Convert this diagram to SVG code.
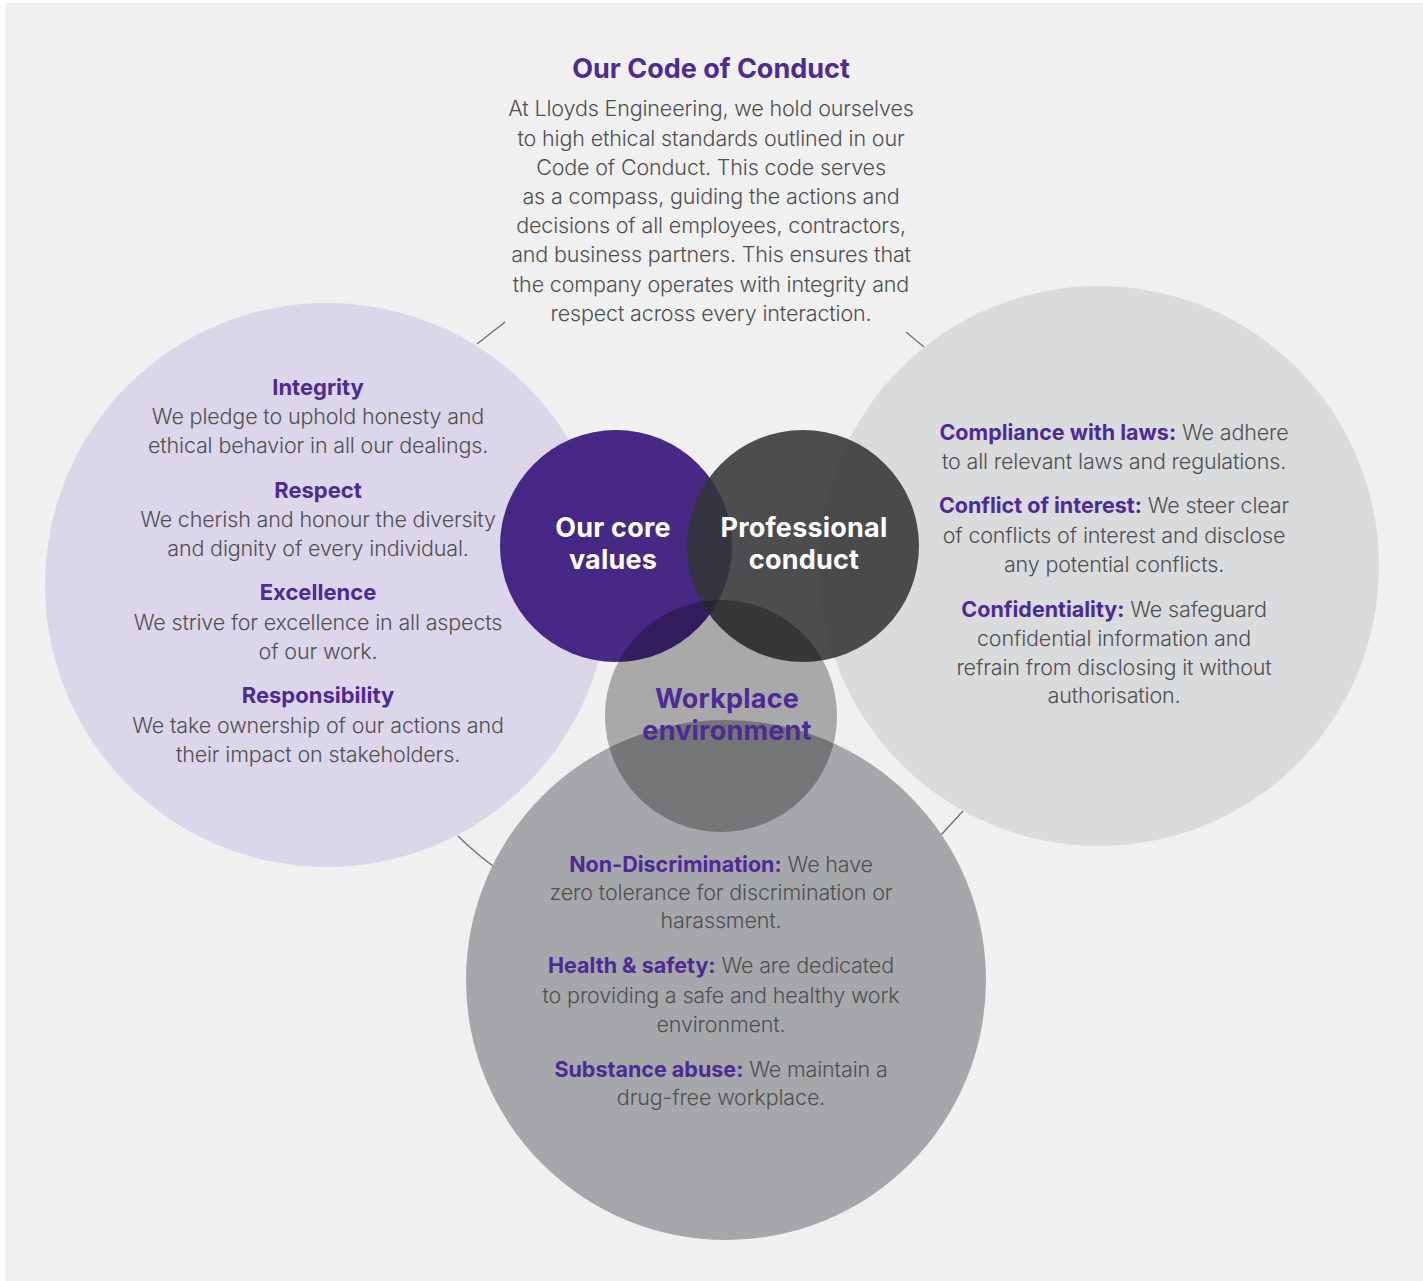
<svg xmlns="http://www.w3.org/2000/svg" width="1423" height="1281" viewBox="0 0 1423 1281">
<style>
.body{font-family:Inter,"Liberation Sans",sans-serif;font-weight:300;font-size:21.5px;fill:#4f4f51;letter-spacing:-0.15px;text-anchor:middle}
.h{font-family:Inter,"Liberation Sans",sans-serif;font-weight:700;fill:#4e2a96;letter-spacing:0px}
.hc{font-size:22px;text-anchor:middle}
.lbl{font-family:Inter,"Liberation Sans",sans-serif;font-weight:700;font-size:27px;letter-spacing:0.2px;text-anchor:middle}
.conn{stroke:#6d6e71;stroke-width:1.3;fill:none}
</style>
<rect x="0" y="0" width="1423" height="1281" fill="#ffffff"/>
<rect x="5" y="3" width="1418" height="1278" fill="#f0f0f0"/>
<g id="connectors">
<line class="conn" x1="477" y1="344" x2="505" y2="322"/>
<line class="conn" x1="906" y1="332" x2="924" y2="347"/>
<path class="conn" d="M458 836 Q474 852 493 866"/>
<line class="conn" x1="963" y1="811" x2="941" y2="835"/>
</g>
<g id="code-of-conduct">
<text class="h" x="711" y="78" text-anchor="middle" font-size="27">Our Code of Conduct</text>
<text class="body" x="711" y="116">At Lloyds Engineering, we hold ourselves</text>
<text class="body" x="711" y="146">to high ethical standards outlined in our</text>
<text class="body" x="711" y="175">Code of Conduct. This code serves</text>
<text class="body" x="711" y="204">as a compass, guiding the actions and</text>
<text class="body" x="711" y="233">decisions of all employees, contractors,</text>
<text class="body" x="711" y="262">and business partners. This ensures that</text>
<text class="body" x="711" y="292">the company operates with integrity and</text>
<text class="body" x="711" y="321">respect across every interaction.</text>
</g>
<g id="core-values-detail">
<circle cx="327" cy="585" r="282" fill="#dcd6ea"/>
<text class="h hc" x="318" y="395">Integrity</text>
<text class="body" x="318" y="424">We pledge to uphold honesty and</text>
<text class="body" x="318" y="453">ethical behavior in all our dealings.</text>
<text class="h hc" x="318" y="498">Respect</text>
<text class="body" x="318" y="527">We cherish and honour the diversity</text>
<text class="body" x="318" y="556">and dignity of every individual.</text>
<text class="h hc" x="318" y="600">Excellence</text>
<text class="body" x="318" y="630">We strive for excellence in all aspects</text>
<text class="body" x="318" y="659">of our work.</text>
<text class="h hc" x="318" y="703">Responsibility</text>
<text class="body" x="318" y="733">We take ownership of our actions and</text>
<text class="body" x="318" y="762">their impact on stakeholders.</text>
</g>
<g id="professional-conduct-detail">
<circle cx="1099" cy="566" r="280" fill="#dadbdd"/>
<text class="body" x="1114" y="440"><tspan class="h">Compliance with laws:</tspan> We adhere</text>
<text class="body" x="1114" y="469">to all relevant laws and regulations.</text>
<text class="body" x="1114" y="513"><tspan class="h">Conflict of interest:</tspan> We steer clear</text>
<text class="body" x="1114" y="543">of conflicts of interest and disclose</text>
<text class="body" x="1114" y="572">any potential conflicts.</text>
<text class="body" x="1114" y="617"><tspan class="h">Confidentiality:</tspan> We safeguard</text>
<text class="body" x="1114" y="646">confidential information and</text>
<text class="body" x="1114" y="675">refrain from disclosing it without</text>
<text class="body" x="1114" y="703">authorisation.</text>
</g>
<g id="workplace-detail">
<circle cx="726" cy="980" r="260" fill="#a6a7aa"/>
<text class="body" x="721" y="872"><tspan class="h">Non-Discrimination:</tspan> We have</text>
<text class="body" x="721" y="900">zero tolerance for discrimination or</text>
<text class="body" x="721" y="928">harassment.</text>
<text class="body" x="721" y="973"><tspan class="h">Health &amp; safety:</tspan> We are dedicated</text>
<text class="body" x="721" y="1003">to providing a safe and healthy work</text>
<text class="body" x="721" y="1032">environment.</text>
<text class="body" x="721" y="1077"><tspan class="h">Substance abuse:</tspan> We maintain a</text>
<text class="body" x="721" y="1105">drug-free workplace.</text>
</g>
<g id="our-core-values">
<circle cx="616" cy="546" r="116" fill="#3f1f80" opacity="0.96"/>
</g>
<g id="professional-conduct">
<circle cx="803" cy="546" r="116" fill="#353638" opacity="0.88"/>
</g>
<g id="workplace-environment">
<circle cx="721" cy="716" r="116" fill="#070707" opacity="0.3"/>
</g>
<g id="labels">
<text class="lbl" x="613" y="537" fill="#ffffff">Our core</text>
<text class="lbl" x="613" y="569" fill="#ffffff">values</text>
<text class="lbl" x="804" y="537" fill="#ffffff">Professional</text>
<text class="lbl" x="804" y="569" fill="#ffffff">conduct</text>
<text class="lbl" x="727" y="708" fill="#4e2a96">Workplace</text>
<text class="lbl" x="727" y="740" fill="#4e2a96">environment</text>
</g>
</svg>
